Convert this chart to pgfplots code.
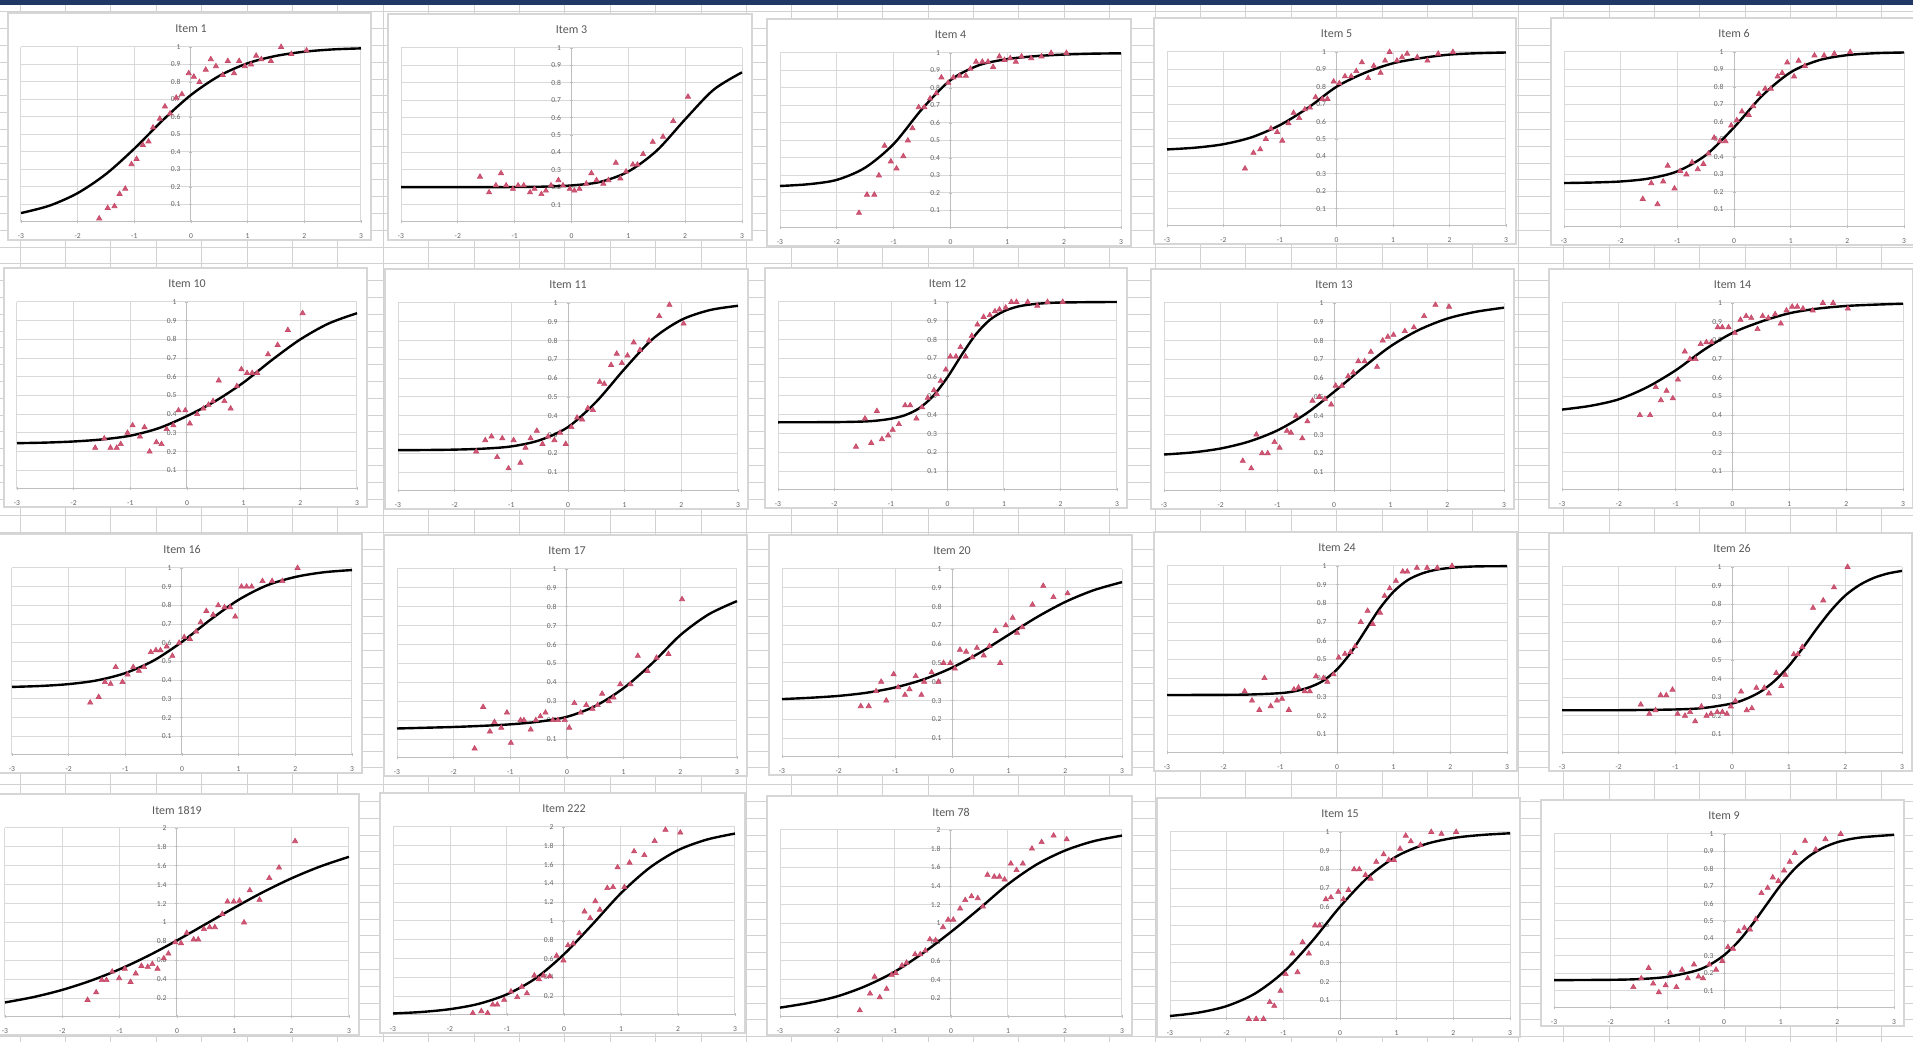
\documentclass[border=0pt]{standalone}
\usepackage{fontspec}
\setmainfont{Carlito}
\usepackage{pgfplots}
\pgfplotsset{compat=1.18}

\definecolor{gridc}{RGB}{217,217,217}
\definecolor{cellc}{RGB}{210,210,210}
\definecolor{boxc}{RGB}{214,214,214}
\definecolor{axisc}{RGB}{191,191,191}
\definecolor{titlec}{RGB}{89,89,89}
\definecolor{tickc}{RGB}{100,100,100}
\definecolor{markc}{RGB}{199,71,103}
\definecolor{navy}{RGB}{31,56,100}

\pgfplotsset{
  panel/.style={
    scale only axis, anchor=south west, clip=false,
    xmin=-3, xmax=3, ymin=0,
    xtick={-3,-2,-1,0,1,2,3},
    axis x line=bottom, axis y line=middle,
    axis line style={-, draw=axisc, line width=0.5pt},
    grid=major, major grid style={draw=gridc, line width=0.5pt},
    major tick length=1.5pt, tick style={draw=axisc, line width=0.4pt},
    tick label style={font=\fontsize{3.8}{4}\selectfont, text=tickc},
    /pgf/number format/assume math mode=true,
    xticklabel style={yshift=-1.5pt},
    yticklabel style={xshift=-1pt, /pgf/number format/fixed},
  },
  curve/.style={black, line width=1.2pt, smooth, no markers},
  pts/.style={only marks, mark=triangle*, mark size=1.5pt,
    mark options={fill=markc!90!white, draw=markc, line width=0.3pt}},
}

% one chart: left, right, top, bottom of the plot area (px), title, ymax, yticks, curve, observed points
\newcommand\chartpanel[9]{%
  \pgfmathsetmacro\pnlx{#1*0.5}%
  \pgfmathsetmacro\pnly{(1042-#4)*0.5}%
  \pgfmathsetmacro\pnlw{(#2-#1)*0.5}%
  \pgfmathsetmacro\pnlh{(#4-#3)*0.5}%
  \begin{scope}[x=0.5pt,y=-0.5pt,yshift=521pt]
    \filldraw[fill=white,draw=boxc,line width=0.6pt] (#1-13,#3-34) rectangle (#2+10,#4+18);
    \node[font=\fontsize{6}{7}\selectfont,text=titlec] at ({(#1+#2)/2},#3-18) {#5};
  \end{scope}
  \begin{axis}[panel, at={(\pnlx pt,\pnly pt)}, width=\pnlw pt, height=\pnlh pt,
      ymax=#6, ytick={#7}]
    \addplot[curve] coordinates {#8};
    \addplot[pts] coordinates {#9};
  \end{axis}%
}

\newcommand\ticksone{0,0.1,0.2,0.3,0.4,0.5,0.6,0.7,0.8,0.9,1}
\newcommand\tickstwo{0,0.2,0.4,0.6,0.8,1,1.2,1.4,1.6,1.8,2}

\begin{document}
\begin{tikzpicture}
\useasboundingbox (0,0) rectangle (956.5pt,521pt);
\clip (0,0) rectangle (956.5pt,521pt);

% worksheet cells behind the charts
\begin{scope}[x=0.5pt,y=-0.5pt,yshift=521pt]
  \fill[white] (0,0) rectangle (1913,1042);
  \foreach \i in {0,...,41} \draw[cellc,line width=0.5pt] ({20+45.4*\i},0) -- ({20+45.4*\i},1042);
  \foreach \j in {0,...,62} \draw[cellc,line width=0.5pt] (0,{12+16.8*\j}) -- (1913,{12+16.8*\j});
  \fill[navy] (0,0) rectangle (1913,5);
\end{scope}

% ---------- row 1 ----------
\chartpanel{21}{361}{47}{222}{Item 1}{1}{\ticksone}
{(-3,0.051) (-2.5,0.093) (-2,0.165) (-1.5,0.274) (-1,0.419) (-0.5,0.581) (0,0.726) (0.5,0.835) (1,0.907) (1.5,0.949) (2,0.973) (2.5,0.986) (3,0.992)}
{(-1.62,0.02) (-1.47,0.08) (-1.35,0.09) (-1.26,0.16) (-1.16,0.19) (-1.05,0.33) (-0.96,0.36) (-0.85,0.44) (-0.75,0.46) (-0.67,0.54) (-0.55,0.59) (-0.46,0.66) (-0.37,0.62) (-0.26,0.71) (-0.16,0.73) (-0.04,0.85) (0.05,0.83) (0.15,0.8) (0.26,0.87) (0.35,0.93) (0.44,0.89) (0.56,0.84) (0.65,0.92) (0.76,0.85) (0.85,0.92) (0.95,0.89) (1.06,0.9) (1.15,0.95) (1.24,0.93) (1.41,0.92) (1.59,1) (1.77,0.96) (2.04,0.98)}

\chartpanel{401}{742}{48}{222}{Item 3}{1}{\ticksone}
{(-3,0.2) (-2.5,0.2) (-2,0.2) (-1.5,0.2) (-1,0.201) (-0.5,0.203) (0,0.21) (0.5,0.23) (1,0.29) (1.5,0.41) (2,0.59) (2.5,0.76) (3,0.86)}
{(-1.61,0.26) (-1.45,0.17) (-1.33,0.21) (-1.24,0.28) (-1.15,0.21) (-1.03,0.19) (-0.94,0.21) (-0.84,0.21) (-0.73,0.17) (-0.65,0.19) (-0.53,0.16) (-0.45,0.18) (-0.36,0.21) (-0.23,0.24) (-0.15,0.21) (-0.03,0.19) (0.05,0.18) (0.14,0.19) (0.26,0.22) (0.35,0.28) (0.44,0.24) (0.56,0.22) (0.65,0.24) (0.78,0.34) (0.86,0.25) (0.96,0.29) (1.08,0.33) (1.16,0.33) (1.26,0.39) (1.43,0.46) (1.61,0.49) (1.79,0.58) (2.05,0.72)}

\chartpanel{780}{1121}{53}{228}{Item 4}{1}{\ticksone}
{(-3,0.24) (-2.5,0.25) (-2,0.275) (-1.5,0.345) (-1,0.48) (-0.5,0.68) (0,0.845) (0.5,0.93) (1,0.965) (1.5,0.982) (2,0.991) (2.5,0.996) (3,0.998)}
{(-1.61,0.086) (-1.47,0.19) (-1.34,0.19) (-1.26,0.3) (-1.16,0.47) (-1.05,0.38) (-0.95,0.34) (-0.83,0.41) (-0.75,0.5) (-0.67,0.57) (-0.56,0.69) (-0.46,0.69) (-0.36,0.74) (-0.25,0.77) (-0.16,0.86) (-0.04,0.83) (0.05,0.86) (0.16,0.87) (0.27,0.87) (0.35,0.91) (0.45,0.95) (0.56,0.95) (0.66,0.95) (0.75,0.92) (0.86,0.98) (0.95,0.96) (1.05,0.97) (1.15,0.95) (1.25,0.98) (1.42,0.97) (1.6,0.98) (1.77,1) (2.04,1)}

\chartpanel{1167}{1506}{52}{226}{Item 5}{1}{\ticksone}
{(-3,0.44) (-2.5,0.45) (-2,0.47) (-1.5,0.51) (-1,0.58) (-0.5,0.68) (0,0.8) (0.5,0.88) (1,0.935) (1.5,0.965) (2,0.985) (2.5,0.993) (3,0.997)}
{(-1.62,0.33) (-1.47,0.42) (-1.35,0.44) (-1.25,0.5) (-1.16,0.56) (-1.05,0.54) (-0.96,0.49) (-0.85,0.59) (-0.76,0.65) (-0.66,0.62) (-0.56,0.67) (-0.47,0.68) (-0.37,0.74) (-0.25,0.73) (-0.16,0.73) (-0.05,0.83) (0.05,0.82) (0.15,0.86) (0.26,0.86) (0.35,0.89) (0.45,0.94) (0.56,0.85) (0.66,0.92) (0.78,0.88) (0.86,0.95) (0.94,1) (1.07,0.95) (1.16,0.97) (1.25,0.99) (1.43,0.97) (1.61,0.95) (1.8,0.99) (2.06,1)}

\chartpanel{1564}{1904}{52}{227}{Item 6}{1}{\ticksone}
{(-3,0.251) (-2.5,0.254) (-2,0.26) (-1.5,0.277) (-1,0.318) (-0.5,0.41) (0,0.569) (0.5,0.751) (1,0.884) (1.5,0.953) (2,0.982) (2.5,0.993) (3,0.997)}
{(-1.61,0.16) (-1.46,0.25) (-1.35,0.13) (-1.25,0.26) (-1.17,0.35) (-1.05,0.22) (-0.95,0.32) (-0.84,0.3) (-0.74,0.37) (-0.64,0.33) (-0.54,0.36) (-0.45,0.42) (-0.35,0.51) (-0.25,0.49) (-0.15,0.49) (-0.05,0.58) (0.05,0.61) (0.14,0.66) (0.26,0.64) (0.34,0.69) (0.44,0.76) (0.55,0.79) (0.65,0.79) (0.77,0.86) (0.85,0.88) (0.94,0.94) (1.06,0.86) (1.14,0.95) (1.25,0.92) (1.42,0.98) (1.59,0.98) (1.77,0.99) (2.05,1)}

% ---------- row 2 ----------
\chartpanel{17}{357}{302}{489}{Item 10}{1}{\ticksone}
{(-3,0.245) (-2.5,0.248) (-2,0.254) (-1.5,0.265) (-1,0.285) (-0.5,0.325) (0,0.39) (0.5,0.47) (1,0.57) (1.5,0.69) (2,0.8) (2.5,0.885) (3,0.94)}
{(-1.62,0.22) (-1.46,0.27) (-1.35,0.22) (-1.24,0.22) (-1.17,0.24) (-1.05,0.3) (-0.96,0.34) (-0.83,0.28) (-0.75,0.33) (-0.66,0.2) (-0.54,0.25) (-0.45,0.24) (-0.36,0.32) (-0.24,0.34) (-0.15,0.42) (-0.03,0.42) (0.05,0.35) (0.18,0.4) (0.29,0.43) (0.38,0.45) (0.46,0.47) (0.56,0.58) (0.66,0.47) (0.77,0.43) (0.88,0.55) (0.96,0.64) (1.06,0.62) (1.15,0.62) (1.24,0.62) (1.43,0.72) (1.6,0.77) (1.78,0.85) (2.04,0.94)}

\chartpanel{398}{738}{303}{491}{Item 11}{1}{\ticksone}
{(-3,0.217) (-2.5,0.218) (-2,0.22) (-1.5,0.225) (-1,0.237) (-0.5,0.27) (0,0.34) (0.5,0.475) (1,0.65) (1.5,0.81) (2,0.91) (2.5,0.962) (3,0.985)}
{(-1.62,0.21) (-1.46,0.27) (-1.35,0.29) (-1.25,0.18) (-1.16,0.28) (-1.05,0.12) (-0.96,0.27) (-0.84,0.15) (-0.75,0.23) (-0.66,0.28) (-0.55,0.32) (-0.45,0.25) (-0.35,0.29) (-0.24,0.27) (-0.14,0.31) (-0.04,0.25) (0.06,0.34) (0.16,0.39) (0.25,0.38) (0.35,0.44) (0.44,0.43) (0.56,0.58) (0.64,0.57) (0.76,0.67) (0.86,0.73) (0.95,0.68) (1.05,0.72) (1.16,0.79) (1.27,0.75) (1.43,0.8) (1.61,0.93) (1.79,0.99) (2.04,0.89)}

\chartpanel{778}{1117}{302}{490}{Item 12}{1}{\ticksone}
{(-3,0.36) (-2,0.361) (-1.5,0.364) (-1.25,0.369) (-1,0.379) (-0.75,0.398) (-0.5,0.435) (-0.25,0.501) (0,0.6) (0.25,0.718) (0.5,0.827) (0.75,0.905) (1,0.951) (1.25,0.976) (1.5,0.988) (1.75,0.994) (2,0.997) (2.5,0.999) (3,1)}
{(-1.62,0.23) (-1.46,0.38) (-1.35,0.25) (-1.25,0.42) (-1.16,0.27) (-1.05,0.29) (-0.97,0.32) (-0.86,0.35) (-0.75,0.45) (-0.66,0.45) (-0.55,0.38) (-0.45,0.44) (-0.35,0.49) (-0.24,0.53) (-0.19,0.51) (-0.12,0.58) (-0.03,0.64) (0.05,0.71) (0.15,0.71) (0.23,0.76) (0.32,0.71) (0.43,0.82) (0.53,0.88) (0.64,0.92) (0.75,0.93) (0.84,0.95) (0.92,0.96) (1.03,0.97) (1.13,1) (1.22,1) (1.42,1) (1.59,0.98) (1.77,1) (2.04,1)}

\chartpanel{1164}{1504}{303}{491}{Item 13}{1}{\ticksone}
{(-3,0.194) (-2.5,0.205) (-2,0.226) (-1.5,0.263) (-1,0.322) (-0.5,0.41) (0,0.527) (0.5,0.653) (1,0.77) (1.5,0.857) (2,0.917) (2.5,0.953) (3,0.975)}
{(-1.61,0.16) (-1.46,0.12) (-1.37,0.3) (-1.27,0.2) (-1.17,0.2) (-1.05,0.26) (-0.96,0.23) (-0.83,0.32) (-0.76,0.31) (-0.67,0.4) (-0.56,0.28) (-0.47,0.37) (-0.38,0.48) (-0.26,0.5) (-0.16,0.49) (-0.05,0.46) (0.03,0.56) (0.14,0.56) (0.25,0.61) (0.34,0.63) (0.43,0.69) (0.54,0.69) (0.65,0.74) (0.76,0.66) (0.86,0.8) (0.95,0.82) (1.05,0.83) (1.25,0.85) (1.41,0.87) (1.59,0.93) (1.79,0.99) (2.03,0.98)}

\chartpanel{1562}{1903}{303}{490}{Item 14}{1}{\ticksone}
{(-3,0.43) (-2.5,0.45) (-2,0.485) (-1.5,0.55) (-1,0.64) (-0.5,0.75) (0,0.84) (0.5,0.9) (1,0.945) (1.5,0.97) (2,0.984) (2.5,0.991) (3,0.996)}
{(-1.63,0.4) (-1.45,0.4) (-1.35,0.55) (-1.26,0.48) (-1.16,0.53) (-1.05,0.49) (-0.96,0.59) (-0.84,0.74) (-0.75,0.7) (-0.65,0.7) (-0.56,0.78) (-0.46,0.79) (-0.37,0.79) (-0.26,0.87) (-0.18,0.87) (-0.07,0.87) (0.04,0.84) (0.14,0.91) (0.24,0.93) (0.33,0.92) (0.44,0.86) (0.53,0.93) (0.63,0.92) (0.75,0.94) (0.85,0.89) (0.95,0.96) (1.05,0.98) (1.14,0.98) (1.24,0.97) (1.41,0.96) (1.59,1) (1.77,1) (2.03,0.97)}

% ---------- row 3 ----------
\chartpanel{12}{352}{568}{755}{Item 16}{1}{\ticksone}
{(-3,0.364) (-2.5,0.369) (-2,0.379) (-1.5,0.399) (-1,0.438) (-0.5,0.505) (0,0.605) (0.5,0.723) (1,0.83) (1.5,0.907) (2,0.952) (2.5,0.977) (3,0.989)}
{(-1.62,0.28) (-1.47,0.31) (-1.36,0.39) (-1.26,0.38) (-1.17,0.47) (-1.05,0.39) (-0.96,0.43) (-0.86,0.47) (-0.76,0.45) (-0.67,0.47) (-0.55,0.55) (-0.46,0.56) (-0.38,0.56) (-0.27,0.58) (-0.17,0.53) (-0.05,0.6) (0.04,0.63) (0.14,0.62) (0.25,0.66) (0.33,0.71) (0.43,0.77) (0.55,0.75) (0.64,0.8) (0.75,0.79) (0.85,0.79) (0.94,0.74) (1.05,0.9) (1.14,0.9) (1.23,0.9) (1.42,0.93) (1.59,0.93) (1.77,0.93) (2.04,1)}

\chartpanel{397}{737}{569}{758}{Item 17}{1}{\ticksone}
{(-3,0.156) (-2.5,0.16) (-2,0.164) (-1.5,0.17) (-1,0.178) (-0.5,0.192) (0,0.218) (0.5,0.275) (1,0.37) (1.5,0.5) (2,0.65) (2.5,0.76) (3,0.83)}
{(-1.63,0.05) (-1.48,0.27) (-1.36,0.14) (-1.28,0.19) (-1.16,0.16) (-1.06,0.24) (-0.99,0.08) (-0.82,0.2) (-0.76,0.2) (-0.64,0.15) (-0.55,0.2) (-0.47,0.22) (-0.38,0.24) (-0.25,0.2) (-0.16,0.2) (-0.04,0.2) (0.04,0.16) (0.13,0.29) (0.24,0.24) (0.34,0.28) (0.45,0.26) (0.54,0.28) (0.62,0.34) (0.74,0.3) (0.82,0.32) (0.94,0.39) (1.12,0.39) (1.25,0.54) (1.42,0.46) (1.58,0.53) (1.79,0.55) (2.03,0.84)}

\chartpanel{782}{1122}{569}{757}{Item 20}{1}{\ticksone}
{(-3,0.308) (-2.5,0.315) (-2,0.325) (-1.5,0.342) (-1,0.37) (-0.5,0.413) (0,0.475) (0.5,0.556) (1,0.65) (1.5,0.744) (2,0.825) (2.5,0.887) (3,0.93)}
{(-1.61,0.27) (-1.47,0.27) (-1.34,0.35) (-1.25,0.4) (-1.16,0.3) (-1.03,0.44) (-0.95,0.37) (-0.83,0.33) (-0.75,0.36) (-0.64,0.43) (-0.54,0.33) (-0.49,0.4) (-0.36,0.45) (-0.24,0.4) (-0.15,0.5) (-0.03,0.5) (0.05,0.47) (0.14,0.57) (0.25,0.56) (0.36,0.53) (0.44,0.58) (0.56,0.54) (0.66,0.59) (0.77,0.67) (0.85,0.5) (0.95,0.7) (1.07,0.74) (1.15,0.66) (1.24,0.69) (1.42,0.81) (1.61,0.91) (1.79,0.85) (2.04,0.87)}

\chartpanel{1167}{1507}{566}{753}{Item 24}{1}{\ticksone}
{(-3,0.31) (-2,0.311) (-1.5,0.313) (-1,0.32) (-0.75,0.33) (-0.5,0.35) (-0.25,0.385) (0,0.447) (0.25,0.539) (0.5,0.655) (0.75,0.771) (1,0.863) (1.25,0.925) (1.5,0.96) (1.75,0.98) (2,0.99) (2.25,0.995) (2.5,0.998) (3,0.999)}
{(-1.63,0.33) (-1.5,0.28) (-1.37,0.23) (-1.28,0.4) (-1.17,0.25) (-1.06,0.28) (-0.97,0.29) (-0.85,0.23) (-0.76,0.34) (-0.68,0.35) (-0.57,0.33) (-0.48,0.33) (-0.37,0.41) (-0.24,0.4) (-0.17,0.38) (-0.06,0.42) (0.03,0.51) (0.14,0.53) (0.24,0.54) (0.32,0.57) (0.42,0.7) (0.54,0.76) (0.63,0.69) (0.76,0.75) (0.84,0.84) (0.93,0.88) (1.04,0.92) (1.16,0.97) (1.24,0.97) (1.41,0.99) (1.59,0.99) (1.77,0.99) (2.03,1)}

\chartpanel{1562}{1902}{567}{753}{Item 26}{1}{\ticksone}
{(-3,0.23) (-2,0.23) (-1,0.234) (-0.5,0.242) (0,0.266) (0.25,0.291) (0.5,0.329) (0.75,0.387) (1,0.467) (1.25,0.565) (1.5,0.67) (1.75,0.767) (2,0.847) (2.25,0.903) (2.5,0.941) (2.75,0.965) (3,0.979)}
{(-1.61,0.26) (-1.46,0.21) (-1.35,0.23) (-1.26,0.31) (-1.16,0.31) (-1.05,0.34) (-0.96,0.21) (-0.83,0.2) (-0.74,0.22) (-0.65,0.17) (-0.54,0.25) (-0.45,0.2) (-0.37,0.21) (-0.26,0.22) (-0.17,0.22) (-0.09,0.21) (-0.02,0.25) (0.06,0.28) (0.16,0.33) (0.26,0.23) (0.35,0.24) (0.43,0.35) (0.57,0.35) (0.65,0.32) (0.78,0.43) (0.87,0.36) (0.94,0.42) (1.09,0.53) (1.16,0.53) (1.24,0.57) (1.43,0.78) (1.61,0.82) (1.8,0.89) (2.04,1)}

% ---------- row 4 ----------
\chartpanel{5}{349}{828}{1017}{Item 1819}{2}{\tickstwo}
{(-3,0.154) (-2.5,0.211) (-2,0.287) (-1.5,0.385) (-1,0.505) (-0.5,0.648) (0,0.81) (0.5,0.983) (1,1.156) (1.5,1.321) (2,1.468) (2.5,1.593) (3,1.695)}
{(-1.56,0.18) (-1.41,0.26) (-1.31,0.39) (-1.23,0.39) (-1.13,0.48) (-1.01,0.41) (-0.91,0.51) (-0.81,0.37) (-0.72,0.46) (-0.62,0.54) (-0.51,0.53) (-0.43,0.56) (-0.34,0.51) (-0.23,0.62) (-0.15,0.67) (-0.03,0.79) (0.07,0.78) (0.17,0.89) (0.29,0.82) (0.37,0.82) (0.47,0.93) (0.57,0.95) (0.66,0.95) (0.79,1.09) (0.88,1.22) (0.99,1.22) (1.09,1.23) (1.17,1) (1.27,1.34) (1.44,1.24) (1.61,1.47) (1.78,1.58) (2.06,1.86)}

\chartpanel{393}{735}{827}{1015}{Item 222}{2}{\tickstwo}
{(-3,0.016) (-2.5,0.032) (-2,0.062) (-1.5,0.118) (-1,0.22) (-0.5,0.389) (0,0.646) (0.5,0.965) (1,1.296) (1.5,1.565) (2,1.753) (2.5,1.865) (3,1.93)}
{(-1.6,0.02) (-1.45,0.04) (-1.34,0.02) (-1.25,0.11) (-1.17,0.11) (-1.05,0.16) (-0.93,0.25) (-0.82,0.19) (-0.74,0.3) (-0.65,0.23) (-0.52,0.42) (-0.44,0.38) (-0.36,0.42) (-0.25,0.41) (-0.13,0.63) (-0.01,0.58) (0.07,0.74) (0.16,0.76) (0.27,0.87) (0.36,1.1) (0.46,1.03) (0.55,1.21) (0.63,1.12) (0.76,1.35) (0.86,1.36) (0.94,1.57) (1.06,1.36) (1.15,1.62) (1.23,1.74) (1.41,1.7) (1.59,1.85) (1.78,1.97) (2.04,1.94)}

\chartpanel{780}{1122}{830}{1017}{Item 78}{2}{\tickstwo}
{(-3,0.1) (-2.5,0.15) (-2,0.22) (-1.5,0.33) (-1,0.48) (-0.5,0.68) (0,0.91) (0.5,1.16) (1,1.42) (1.5,1.63) (2,1.78) (2.5,1.88) (3,1.94)}
{(-1.6,0.07) (-1.42,0.25) (-1.34,0.43) (-1.25,0.21) (-1.13,0.3) (-1.04,0.45) (-0.97,0.47) (-0.86,0.55) (-0.78,0.58) (-0.63,0.67) (-0.54,0.67) (-0.45,0.71) (-0.37,0.83) (-0.27,0.82) (-0.14,0.96) (-0.05,1.04) (0.04,1.04) (0.16,1.16) (0.25,1.25) (0.36,1.29) (0.47,1.27) (0.56,1.18) (0.64,1.52) (0.76,1.5) (0.85,1.5) (0.94,1.47) (1.05,1.64) (1.15,1.57) (1.26,1.64) (1.42,1.8) (1.59,1.87) (1.8,1.94) (2.03,1.9)}

\chartpanel{1170}{1510}{832}{1019}{Item 15}{1}{\ticksone}
{(-3,0.016) (-2.5,0.034) (-2,0.069) (-1.5,0.136) (-1,0.25) (-0.5,0.413) (0,0.6) (0.5,0.76) (1,0.87) (1.5,0.934) (2,0.968) (2.5,0.984) (3,0.993)}
{(-1.61,0) (-1.48,0) (-1.35,0) (-1.24,0.09) (-1.16,0.07) (-1.05,0.15) (-0.96,0.24) (-0.84,0.35) (-0.75,0.25) (-0.66,0.41) (-0.55,0.35) (-0.44,0.5) (-0.36,0.5) (-0.25,0.64) (-0.16,0.65) (-0.03,0.68) (0.06,0.64) (0.15,0.69) (0.25,0.8) (0.34,0.8) (0.45,0.77) (0.54,0.75) (0.64,0.84) (0.77,0.88) (0.86,0.85) (0.95,0.85) (1.06,0.91) (1.16,0.98) (1.25,0.95) (1.42,0.93) (1.61,1) (1.79,0.99) (2.05,1)}

\chartpanel{1554}{1894}{834}{1008}{Item 9}{1}{\ticksone}
{(-3,0.16) (-2,0.162) (-1.5,0.166) (-1,0.179) (-0.5,0.214) (-0.25,0.249) (0,0.303) (0.25,0.381) (0.5,0.481) (0.75,0.594) (1,0.706) (1.25,0.801) (1.5,0.872) (1.75,0.921) (2,0.953) (2.25,0.972) (2.5,0.983) (3,0.995)}
{(-1.6,0.12) (-1.46,0.17) (-1.33,0.23) (-1.25,0.14) (-1.15,0.09) (-1.03,0.13) (-0.95,0.2) (-0.84,0.12) (-0.74,0.22) (-0.64,0.17) (-0.53,0.25) (-0.45,0.18) (-0.37,0.17) (-0.26,0.25) (-0.14,0.22) (-0.03,0.27) (0.07,0.35) (0.16,0.34) (0.26,0.44) (0.36,0.46) (0.46,0.45) (0.56,0.51) (0.66,0.66) (0.77,0.69) (0.86,0.75) (0.96,0.73) (1.06,0.79) (1.16,0.84) (1.25,0.89) (1.43,0.96) (1.62,0.91) (1.79,0.97) (2.06,1)}

\end{tikzpicture}
\end{document}
